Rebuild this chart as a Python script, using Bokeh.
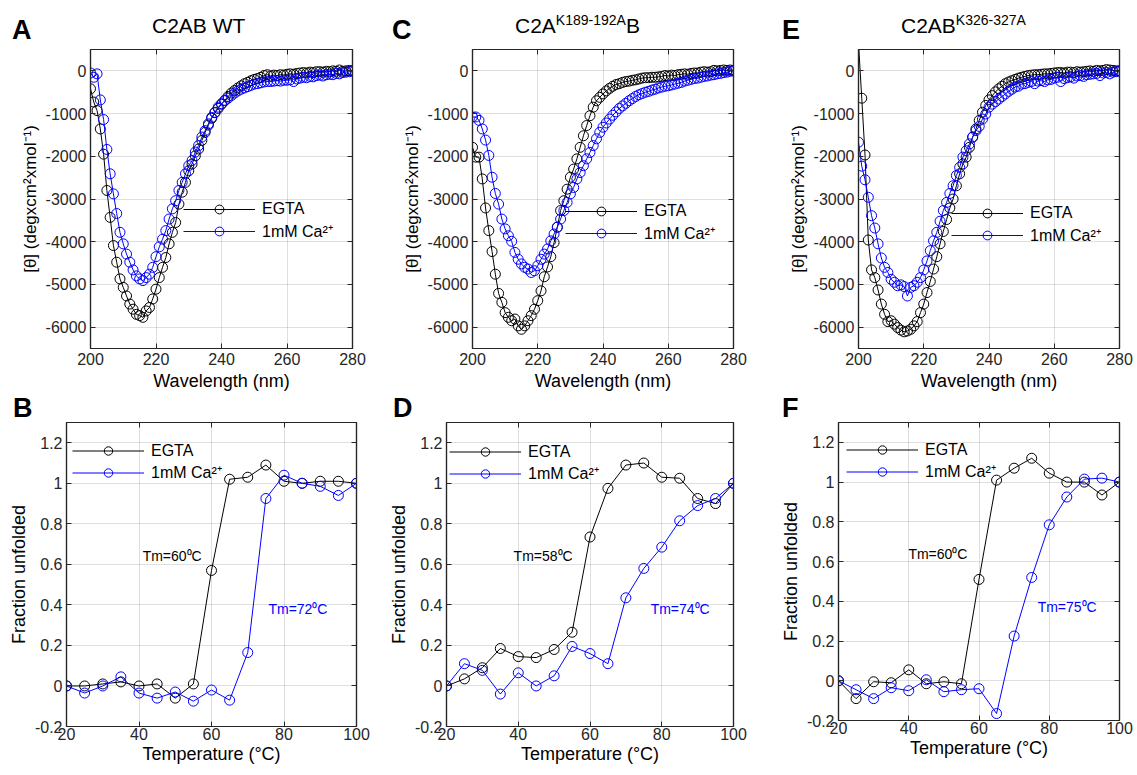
from bokeh.plotting import figure
from bokeh.layouts import column, row
from bokeh.models import (Label, Legend, LegendItem, LinearAxis, FixedTicker,
                          CustomJSTickFormatter, Range1d, Div)
from bokeh.embed import file_html
from bokeh.resources import INLINE

# ---------------- data ----------------
wavelength = list(range(200, 281))
temperature = [20, 25, 30, 35, 40, 45, 50, 55, 60, 65, 70, 75, 80, 85, 90, 95, 100]

wt_egta = [-420, -730, -930, -1360, -1950, -2800, -3430, -4090, -4480, -4870,
           -5070, -5270, -5460, -5580, -5700, -5730, -5770, -5620, -5540, -5340,
           -5110, -4840, -4600, -4370, -4050, -3780, -3550, -3120, -2840, -2610,
           -2340, -2180, -1990, -1830, -1630, -1440, -1270, -1110, -980, -880,
           -780, -690, -600, -520, -460, -400, -350, -300, -270, -230,
           -200, -180, -150, -110, -90, -120, -100, -110, -90, -100,
           -80, -70, -80, -60, -50, -40, -50, -30, -40, -20,
           -20, -30, -10, -20, 0, -10, 20, -10, 0, 10,
           0]
wt_ca = [-50, -150, -70, -680, -1140, -1840, -2410, -2880, -3340, -3780,
         -4050, -4290, -4480, -4660, -4800, -4870, -4910, -4840, -4760, -4600,
         -4350, -4120, -3940, -3740, -3470, -3230, -3040, -2800, -2610, -2410,
         -2220, -2100, -1900, -1750, -1550, -1400, -1240, -1090, -970, -850,
         -770, -700, -640, -580, -520, -470, -430, -400, -370, -340,
         -310, -300, -280, -260, -250, -250, -240, -230, -240, -220,
         -220, -210, -250, -190, -170, -150, -160, -130, -140, -110,
         -100, -120, -90, -80, -90, -60, -70, -40, -30, -20,
         0]
c2a_egta = [-1790, -2020, -2020, -2530, -3210, -3740, -4230, -4760, -5210, -5420,
            -5660, -5770, -5850, -5810, -5970, -6050, -5970, -5850, -5730, -5580,
            -5380, -5150, -4820, -4590, -4350, -4020, -3660, -3270, -3040, -2770,
            -2490, -2300, -2060, -1790, -1520, -1280, -1050, -850, -700, -620,
            -540, -470, -410, -360, -320, -300, -270, -250, -240, -220,
            -210, -190, -170, -160, -160, -150, -150, -140, -130, -110,
            -120, -100, -110, -90, -80, -70, -80, -60, -50, -50,
            -30, -20, -30, -20, 10, 0, 10, 20, 10, 20,
            10]
c2a_ca = [-1080, -1080, -1160, -1360, -1620, -1980, -2490, -2870, -3120, -3470,
          -3700, -3860, -3990, -4250, -4410, -4520, -4600, -4640, -4720, -4680,
          -4560, -4410, -4290, -4170, -3980, -3820, -3660, -3470, -3270, -3080,
          -2880, -2730, -2530, -2380, -2220, -2060, -1910, -1750, -1590, -1440,
          -1320, -1220, -1130, -1040, -960, -880, -820, -760, -700, -650,
          -600, -560, -530, -500, -480, -450, -430, -400, -380, -360,
          -350, -330, -310, -290, -270, -240, -220, -200, -180, -170,
          -150, -130, -120, -100, -90, -70, -60, -40, -30, -10,
          0]
c2b_egta = [650, -640, -1970, -3960, -4660, -4840, -5130, -5460, -5700, -5870,
            -5850, -5930, -6010, -6070, -6110, -6090, -6050, -5970, -5870, -5660,
            -5460, -5190, -4930, -4640, -4350, -4050, -3760, -3480, -3210, -3000,
            -2690, -2410, -2180, -2020, -1790, -1550, -1360, -1160, -970, -810,
            -680, -580, -490, -420, -360, -300, -260, -230, -200, -170,
            -150, -130, -110, -100, -90, -90, -80, -70, -70, -60,
            -50, -40, -40, -50, -30, -30, -40, -20, -30, -20,
            -10, 0, -10, 10, 0, 10, 30, 20, 10, 0,
            0]
c2b_ca = [-1670, -2230, -2550, -2960, -3390, -3680, -4050, -4380, -4600, -4720,
          -4880, -4950, -5030, -5010, -5050, -5270, -5070, -5030, -4950, -4840,
          -4660, -4450, -4210, -3980, -3780, -3520, -3270, -3080, -2870, -2690,
          -2450, -2260, -2020, -1870, -1710, -1550, -1400, -1300, -1130, -1010,
          -850, -780, -720, -660, -600, -540, -480, -430, -380, -360,
          -310, -300, -270, -250, -300, -240, -230, -250, -210, -200,
          -170, -150, -250, -180, -160, -140, -170, -120, -110, -130,
          -90, -80, -70, -60, -110, -50, -40, -70, -30, -20,
          0]

melt_wt_egta = [0, 0, 0.01, 0.02, 0, 0.01, -0.06, 0.01, 0.57, 1.02, 1.03, 1.09, 1.01, 1.0, 1.01, 1.01, 1.0]
melt_wt_ca = [0, -0.035, 0, 0.045, -0.035, -0.06, -0.03, -0.075, -0.02, -0.07, 0.165, 0.925, 1.04, 1.0, 0.985, 0.94, 1.0]
melt_c2a_egta = [0, 0.035, 0.09, 0.185, 0.145, 0.14, 0.18, 0.265, 0.735, 0.975, 1.09, 1.10, 1.03, 1.025, 0.925, 0.90, 1.0]
melt_c2a_ca = [0, 0.11, 0.077, -0.04, 0.065, 0.0, 0.05, 0.195, 0.16, 0.11, 0.435, 0.58, 0.685, 0.815, 0.89, 0.925, 1.0]
melt_c2b_egta = [0, -0.09, -0.005, -0.01, 0.055, -0.015, -0.005, -0.015, 0.51, 1.01, 1.07, 1.12, 1.045, 1.0, 1.0, 0.935, 1.0]
melt_c2b_ca = [0, -0.045, -0.09, -0.035, -0.05, 0.005, -0.055, -0.045, -0.04, -0.165, 0.225, 0.52, 0.785, 0.925, 1.015, 1.02, 1.0]

cd_xticks = [200, 220, 240, 260, 280]
cd_yticks = [-6000, -5000, -4000, -3000, -2000, -1000, 0]
melt_xticks = [20, 40, 60, 80, 100]
melt_yticks = [-0.2, 0, 0.2, 0.4, 0.6, 0.8, 1.0, 1.2]

series_labels = ["EGTA", "1mM Ca\u00b2\u207a"]
cd_ylabel = "[\u03b8] (degxcm\u00b2xmol\u207b\u00b9)"
cd_xlabel = "Wavelength (nm)"
melt_ylabel = "Fraction unfolded"
melt_xlabel = "Temperature (\u00b0C)"

panel_letters_top = ["A", "C", "E"]
panel_letters_bottom = ["B", "D", "F"]
tm_labels = [("Tm=60\u2070C", "Tm=72\u2070C"), ("Tm=58\u2070C", "Tm=74\u2070C"),
             ("Tm=60\u2070C", "Tm=75\u2070C")]

# ---------------- styling ----------------
FONT = "Liberation Sans"
INK = "#262626"
BLACK = "#000000"
BLUE = "#0000ff"


def style_axis(ax, ticks, fmt_code, label, font_size="16px", label_size="18px",
               label_standoff=4, title_standoff=3):
    ax.ticker = FixedTicker(ticks=ticks)
    ax.formatter = CustomJSTickFormatter(code=fmt_code)
    ax.axis_label = label
    ax.axis_label_text_font = FONT
    ax.axis_label_text_font_size = label_size
    ax.axis_label_text_font_style = "normal"
    ax.axis_label_text_color = "black"
    ax.major_label_text_font = FONT
    ax.major_label_text_font_size = font_size
    ax.major_label_text_color = INK
    ax.axis_line_color = INK
    ax.axis_line_width = 1.2
    ax.major_tick_line_color = INK
    ax.major_tick_line_width = 1
    ax.major_tick_in = 5
    ax.major_tick_out = 0
    ax.minor_tick_line_color = None
    ax.major_label_standoff = label_standoff
    ax.axis_label_standoff = title_standoff


def make_fig(fw, fh, left, right, top, bottom, xr, yr, xticks, yticks, xlabel, ylabel, yfmt,
             ylabel_size="18px", x_standoffs=(4, 3)):
    p = figure(frame_width=fw, frame_height=fh,
               min_border_left=left, min_border_right=right,
               min_border_top=top, min_border_bottom=bottom,
               x_range=Range1d(*xr), y_range=Range1d(*yr),
               output_backend="svg", toolbar_location=None,
               background_fill_color="white", border_fill_color="white")
    p.title.text = ""
    p.outline_line_color = INK
    p.outline_line_width = 1.2
    style_axis(p.xaxis[0], xticks, "return tick.toFixed(0);", xlabel,
               label_standoff=x_standoffs[0], title_standoff=x_standoffs[1])
    style_axis(p.yaxis[0], yticks, yfmt, ylabel, label_size=ylabel_size)
    top_ax = LinearAxis()
    style_axis(top_ax, xticks, "return '';", None, font_size="0px", label_standoff=0)
    right_ax = LinearAxis()
    style_axis(right_ax, yticks, "return '';", None, font_size="0px", label_standoff=0)
    p.add_layout(top_ax, "above")
    p.add_layout(right_ax, "right")
    p.xgrid.ticker = FixedTicker(ticks=xticks)
    p.ygrid.ticker = FixedTicker(ticks=yticks)
    for g in (p.xgrid[0], p.ygrid[0]):
        g.grid_line_color = INK
        g.grid_line_alpha = 0.15
        g.grid_line_width = 1
    return p


def add_series(p, x, ys, colors, legend_loc, glyph_h, spacing):
    items = []
    for y, c, lab in zip(ys, colors, series_labels):
        r1 = p.line(x, y, line_color=c, line_width=1)
        r2 = p.scatter(x, y, marker="circle", size=10, fill_color=None,
                       line_color=c, line_width=1)
        items.append(LegendItem(label=lab, renderers=[r1, r2]))
    leg = Legend(items=items, location=legend_loc, border_line_color=None,
                 background_fill_alpha=0, glyph_width=72, glyph_height=glyph_h,
                 label_height=glyph_h, label_standoff=7, spacing=spacing,
                 padding=0, margin=0, label_text_font=FONT,
                 label_text_font_size="16px", label_text_color="black")
    p.add_layout(leg)


def add_tm(p, x, y, text, color):
    p.add_layout(Label(x=x, y=y, text=text, text_font=FONT, text_font_size="14px",
                       text_color=color, text_baseline="middle", text_align="left"))


def span(left, top, size, html, bold=False):
    weight = "bold" if bold else "normal"
    return (f'<span style="position:absolute;left:{left}px;top:{top}px;font-size:{size}px;'
            f'line-height:{size}px;font-weight:{weight};white-space:nowrap;">{html}</span>')


def sup(txt):
    return f'<span style="font-size:14px;position:relative;top:-8px;">{txt}</span>'


CD_FMT = "return tick.toFixed(0);"
MELT_FMT = "return Number(tick.toFixed(1)).toString();"

# ---------------- header (titles + panel letters) ----------------
top_html = (
    f'<div style="position:relative;width:1136px;height:49px;font-family:\'{FONT}\';color:#000;">'
    + span(12, 17, 27, panel_letters_top[0], bold=True)
    + span(152, 15, 21, "C2AB WT")
    + span(392, 17, 27, panel_letters_top[1], bold=True)
    + span(515, 15, 21, "C2A" + sup("K189-192A") + "B")
    + span(782, 17, 27, panel_letters_top[2], bold=True)
    + span(901, 15, 21, "C2AB" + sup("K326-327A"))
    + '</div>')
mid_html = (
    f'<div style="position:relative;width:1136px;height:22px;font-family:\'{FONT}\';color:#000;">'
    + span(13, -1, 27, panel_letters_bottom[0], bold=True)
    + span(393, -1, 27, panel_letters_bottom[1], bold=True)
    + span(782, -1, 27, panel_letters_bottom[2], bold=True)
    + '</div>')
div_top = Div(text=top_html, width=1136, height=49, margin=0, styles={"overflow": "visible"})
div_mid = Div(text=mid_html, width=1136, height=22, margin=0, styles={"overflow": "visible"})

# ---------------- top row: CD spectra ----------------
pA = make_fig(262, 299, 90, 28, 0, 48, (200, 280), (-6500, 500), cd_xticks, cd_yticks,
              cd_xlabel, cd_ylabel, CD_FMT, ylabel_size="17px")
add_series(pA, wavelength, [wt_egta, wt_ca], [BLACK, BLUE], (93, 106), 22, 0)

pC = make_fig(261, 299, 92, 27, 0, 48, (200, 280), (-6500, 500), cd_xticks, cd_yticks,
              cd_xlabel, cd_ylabel, CD_FMT, ylabel_size="17px")
add_series(pC, wavelength, [c2a_egta, c2a_ca], [BLACK, BLUE], (93, 104), 22, 0)

pE = make_fig(261, 299, 98, 17, 0, 48, (200, 280), (-6500, 500), cd_xticks, cd_yticks,
              cd_xlabel, cd_ylabel, CD_FMT, ylabel_size="17px")
add_series(pE, wavelength, [c2b_egta, c2b_ca], [BLACK, BLUE], (93, 102), 22, 0)

# ---------------- bottom row: thermal melts ----------------
pB = make_fig(290, 304, 66, 24, 0, 47, (20, 100), (-0.2, 1.3), melt_xticks, melt_yticks,
              melt_xlabel, melt_ylabel, MELT_FMT, x_standoffs=(1, 1))
add_series(pB, temperature, [melt_wt_egta, melt_wt_ca], [BLACK, BLUE], (6, 243), 21, 0)
add_tm(pB, 41, 0.64, tm_labels[0][0], BLACK)
add_tm(pB, 75.7, 0.38, tm_labels[0][1], BLUE)

pD = make_fig(287, 304, 66, 27, 0, 47, (20, 100), (-0.2, 1.3), melt_xticks, melt_yticks,
              melt_xlabel, melt_ylabel, MELT_FMT, x_standoffs=(1, 1))
add_series(pD, temperature, [melt_c2a_egta, melt_c2a_ca], [BLACK, BLUE], (3, 242), 21, 0)
add_tm(pD, 38.7, 0.64, tm_labels[1][0], BLACK)
add_tm(pD, 76.9, 0.38, tm_labels[1][1], BLUE)

pF = make_fig(281, 298, 78, 17, 4, 49, (20, 100), (-0.2, 1.3), melt_xticks, melt_yticks,
              melt_xlabel, melt_ylabel, MELT_FMT, x_standoffs=(1, 1))
add_series(pF, temperature, [melt_c2b_egta, melt_c2b_ca], [BLACK, BLUE], (8, 238), 21, 0)
add_tm(pF, 39.9, 0.64, tm_labels[2][0], BLACK)
add_tm(pF, 76.7, 0.37, tm_labels[2][1], BLUE)

layout = column(div_top, row(pA, pC, pE), div_mid, row(pB, pD, pF))

open("out.html", "w").write(file_html(layout, INLINE))
